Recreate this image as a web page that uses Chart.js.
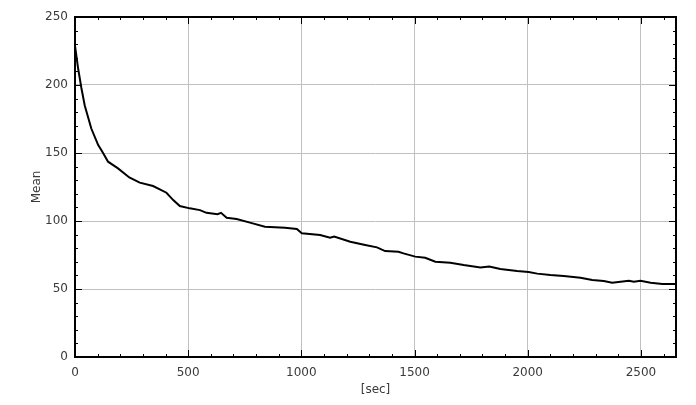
<!DOCTYPE html>
<html>
<head>
<meta charset="utf-8">
<script src="https://cdn.jsdelivr.net/npm/chart.js@4/dist/chart.umd.min.js"></script>
<style>
  html, body { margin: 0; padding: 0; background: #fff; }
  #chart { display: block; }
</style>
</head>
<body>
<canvas id="chart" width="696" height="405"></canvas>
<script>
// values
const times = [0, 13, 28, 43, 72, 102, 124, 146, 190, 240, 286, 345, 404, 434, 463, 507, 552, 581, 630, 645,
  670, 714, 773, 839, 928, 980, 1002, 1083, 1127, 1145, 1216, 1282, 1334, 1370, 1429, 1451, 1503, 1547, 1592, 1658,
  1717, 1791, 1830, 1879, 1953, 2004, 2042, 2100, 2159, 2233, 2285, 2336, 2373, 2410, 2447, 2469, 2498, 2543, 2595, 2655];
const means = [229, 213, 198, 185, 168, 156, 150, 143.6, 138.7, 132, 128.2, 125.7, 120.8, 115.4, 111, 109.3, 108, 106, 105, 106,
  102.4, 101.5, 98.8, 95.8, 95.1, 94.1, 91, 89.7, 87.7, 88.5, 84.8, 82.4, 80.6, 77.9, 77.4, 76.2, 73.8, 73.0, 70.1, 69.3,
  67.6, 65.9, 66.5, 64.7, 63.2, 62.5, 61.3, 60.3, 59.6, 58.3, 56.6, 55.9, 54.6, 55.4, 56.1, 55.4, 56.1, 54.6, 53.7, 53.7];
const xTickValues = [0, 500, 1000, 1500, 2000, 2500];
const yTickValues = [0, 50, 100, 150, 200, 250];
const xMax = 2655;
const yMax = 250;

const textColor = '#3a3a3a';
const font = { family: 'DejaVu Sans', size: 12 };

// frame and inward ticks on all four sides
const framePlugin = {
  id: 'frame',
  afterDraw(chart) {
    const { ctx, chartArea: a, scales } = chart;
    const xs = scales.x, ys = scales.y;
    ctx.save();
    ctx.strokeStyle = '#000';
    ctx.lineWidth = 1;
    ctx.beginPath();
    for (let v = 0; v <= xMax; v += 100) {
      const px = Math.round(xs.getPixelForValue(v)) + 0.5;
      const len = v % 500 === 0 ? 7 : 3;
      ctx.moveTo(px, a.bottom); ctx.lineTo(px, a.bottom - len);
      ctx.moveTo(px, a.top); ctx.lineTo(px, a.top + len);
    }
    for (let v = 0; v <= yMax; v += 10) {
      const py = Math.round(ys.getPixelForValue(v)) + 0.5;
      const len = v % 50 === 0 ? 7 : 3;
      ctx.moveTo(a.left, py); ctx.lineTo(a.left + len, py);
      ctx.moveTo(a.right, py); ctx.lineTo(a.right - len, py);
    }
    ctx.stroke();
    ctx.lineWidth = 2;
    ctx.strokeRect(a.left, a.top, a.right - a.left, a.bottom - a.top);
    ctx.restore();
  }
};

new Chart(document.getElementById('chart'), {
  type: 'line',
  data: {
    datasets: [{
      data: times.map((t, i) => ({ x: t, y: means[i] })),
      borderColor: '#000',
      borderWidth: 2,
      pointRadius: 0,
      tension: 0,
      fill: false
    }]
  },
  options: {
    responsive: false,
    animation: false,
    layout: { padding: { top: 17, right: 20, left: 0, bottom: 0 } },
    plugins: { legend: { display: false }, tooltip: { enabled: false } },
    scales: {
      x: {
        type: 'linear',
        min: 0,
        max: xMax,
        afterBuildTicks(scale) {
          scale.ticks = xTickValues.map(v => ({ value: v }));
        },
        afterFit(scale) { scale.height = 48; },
        ticks: { color: textColor, font, padding: 9, maxRotation: 0, autoSkip: false, callback: v => String(v) },
        grid: { color: '#c0c0c0', drawTicks: false },
        border: { display: false },
        title: { display: true, text: '[sec]', color: textColor, font, padding: { top: 2, bottom: 8 } }
      },
      y: {
        min: 0,
        max: yMax,
        afterBuildTicks(scale) {
          scale.ticks = yTickValues.map(v => ({ value: v }));
        },
        afterFit(scale) { scale.width = 75; },
        ticks: { color: textColor, font, padding: 7, autoSkip: false, callback: v => String(v) },
        grid: { color: '#c0c0c0', drawTicks: false },
        border: { display: false },
        title: { display: true, text: 'Mean', color: textColor, font, padding: { top: 30, bottom: 0 } }
      }
    }
  },
  plugins: [framePlugin]
});
</script>
</body>
</html>
